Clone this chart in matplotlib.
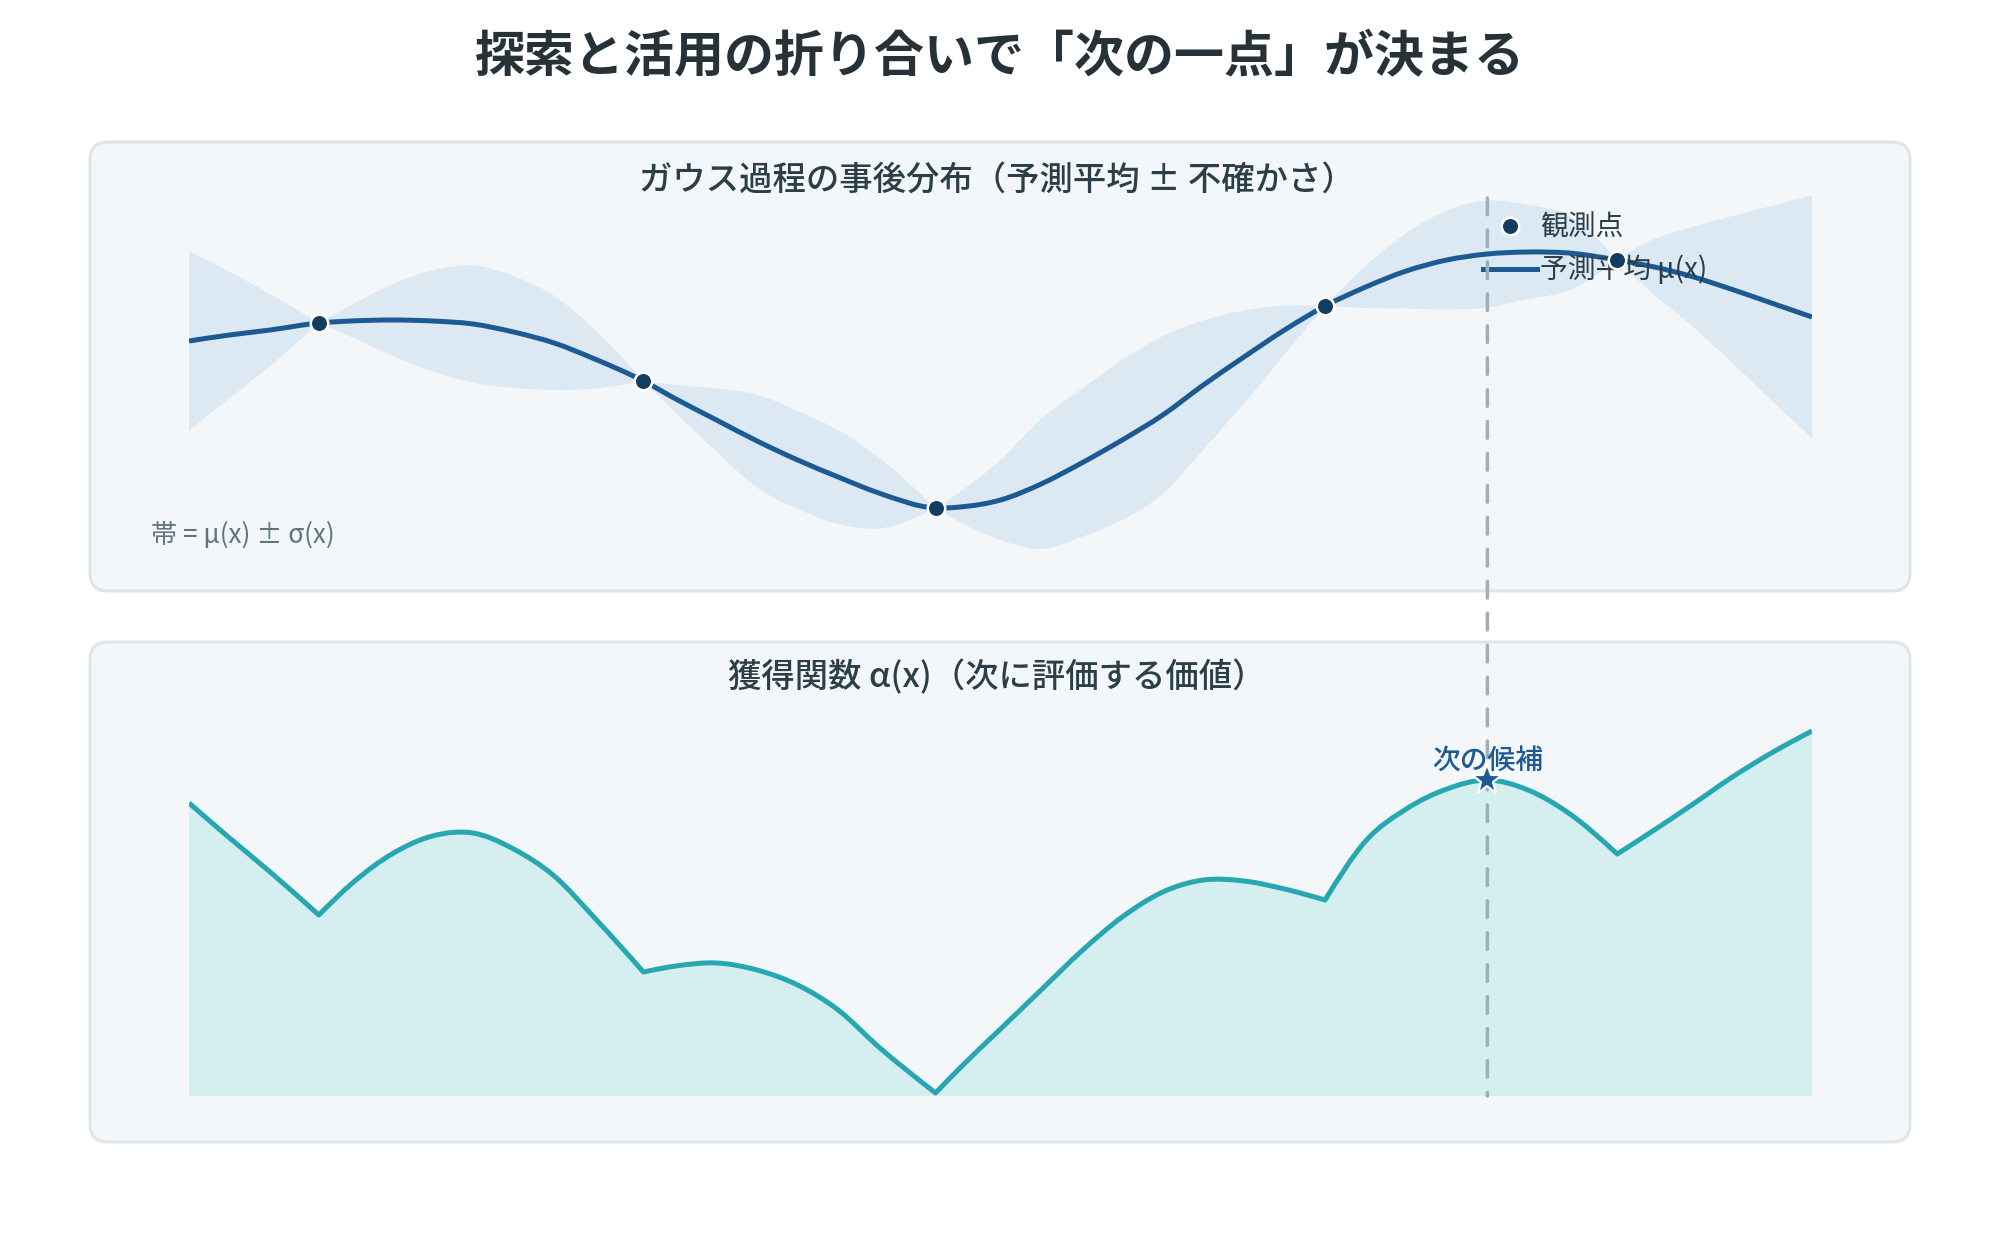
import numpy as np
import matplotlib
matplotlib.use("Agg")
import matplotlib.pyplot as plt
from matplotlib.patches import FancyBboxPatch, ConnectionPatch, PathPatch
from matplotlib.path import Path
from matplotlib.lines import Line2D

plt.rcParams['font.family'] = ['Noto Sans CJK JP', 'DejaVu Sans']

# ---------------- data ----------------
x_grid = [0.0, 0.025, 0.05, 0.08, 0.1, 0.125, 0.15, 0.175, 0.2, 0.225, 0.25, 0.28,
          0.3, 0.325, 0.35, 0.375, 0.4, 0.425, 0.46, 0.475, 0.5, 0.525, 0.55, 0.575,
          0.6, 0.625, 0.65, 0.675, 0.7, 0.725, 0.75, 0.775, 0.8, 0.825, 0.85, 0.88,
          0.9, 0.925, 0.95, 0.975, 1.0]

mu = [2.59, 2.65, 2.70, 2.77, 2.79, 2.80, 2.79, 2.76, 2.68, 2.57, 2.41, 2.19,
      2.01, 1.80, 1.59, 1.40, 1.23, 1.07, 0.92, 0.93, 1.00, 1.16, 1.37, 1.60,
      1.85, 2.15, 2.43, 2.70, 2.94, 3.13, 3.29, 3.40, 3.46, 3.48, 3.47, 3.40,
      3.34, 3.24, 3.11, 2.97, 2.83]

sigma = [0.895, 0.63, 0.36, 0.0, 0.16, 0.355, 0.505, 0.585, 0.56, 0.47, 0.295, 0.0,
         0.14, 0.315, 0.465, 0.49, 0.47, 0.355, 0.0, 0.15, 0.40, 0.65, 0.74, 0.80,
         0.79, 0.645, 0.465, 0.245, 0.0, 0.21, 0.375, 0.495, 0.535, 0.47, 0.375, 0.0,
         0.25, 0.485, 0.725, 0.97, 1.215]

obs_x = [0.08, 0.28, 0.46, 0.70, 0.88]
obs_y = [2.77, 2.19, 0.92, 2.94, 3.40]

acq = [2.93, 2.58, 2.24, 1.81, 2.12, 2.42, 2.60, 2.63, 2.47, 2.20, 1.78, 1.24,
       1.30, 1.33, 1.26, 1.11, 0.86, 0.49, 0.03, 0.28, 0.67, 1.06, 1.45, 1.79,
       2.04, 2.16, 2.15, 2.07, 1.96, 2.55, 2.87, 3.07, 3.16, 3.06, 2.83, 2.42,
       2.63, 2.90, 3.18, 3.43, 3.65]

next_x = 0.80
next_acq = 3.16

title = "探索と活用の折り合いで「次の一点」が決まる"
top_title = "ガウス過程の事後分布（予測平均 ± 不確かさ）"
bottom_title = "獲得関数 α(x)（次に評価する価値）"
band_note = "帯 = μ(x) ± σ(x)"
legend_labels = ["観測点", "予測平均 μ(x)"]
next_label = "次の候補"

# ---------------- style ----------------
C_TITLE = "#263238"
C_SUB = "#2c3e48"
C_PANEL = "#f3f7f9"
C_BORDER = "#dde5ea"
C_BAND = "#dce9f2"
C_MEAN = "#1b5a93"
C_OBS = "#123d60"
C_ACQ = "#26a7b1"
C_ACQFILL = "#d5eef0"
C_DASH = "#9dafba"
C_NEXT = "#1d5a94"
C_NOTE = "#607580"

W, H, DPI = 2000, 1252, 200
fig = plt.figure(figsize=(W / DPI, H / DPI), dpi=DPI)
fig.patch.set_facecolor("white")


def px_rect(x0, y0, x1, y1):
    return [x0 / W, 1 - y1 / H, (x1 - x0) / W, (y1 - y0) / H]


def panel(x0, y0, x1, y1):
    p = FancyBboxPatch((x0 / DPI, (H - y1) / DPI), (x1 - x0) / DPI, (y1 - y0) / DPI,
                       boxstyle="round,pad=0,rounding_size=0.09",
                       transform=fig.dpi_scale_trans, facecolor=C_PANEL,
                       edgecolor=C_BORDER, linewidth=1.1, zorder=-1)
    fig.add_artist(p)


def smooth_segments(x, y, cusps=()):
    """Catmull-Rom style cubic Bezier segments through the given points;
    points listed in `cusps` get one-sided tangents (sharp corner)."""
    x = np.asarray(x, float)
    y = np.asarray(y, float)
    n = len(x)
    h = np.diff(x)
    s = np.diff(y) / h
    t = np.zeros(n)
    for i in range(1, n - 1):
        t[i] = (s[i - 1] * h[i] + s[i] * h[i - 1]) / (h[i - 1] + h[i])
    t[0] = (3 * s[0] - t[1]) / 2
    t[-1] = (3 * s[-1] - t[-2]) / 2
    tl = t.copy()
    tr = t.copy()
    for i in cusps:
        if 0 < i < n - 1:
            tl[i] = (3 * s[i - 1] - t[i - 1]) / 2
            tr[i] = (3 * s[i] - t[i + 1]) / 2
    segs = []
    for i in range(n - 1):
        dx = h[i] / 3
        segs.append(((x[i], y[i]), (x[i] + dx, y[i] + dx * tr[i]),
                     (x[i + 1] - dx, y[i + 1] - dx * tl[i + 1]), (x[i + 1], y[i + 1])))
    return segs


def curve_path(x, y, cusps=()):
    segs = smooth_segments(x, y, cusps)
    verts = [segs[0][0]]
    codes = [Path.MOVETO]
    for sg in segs:
        verts += [sg[1], sg[2], sg[3]]
        codes += [Path.CURVE4] * 3
    return Path(verts, codes)


def band_path(x, lo, hi, cusps_lo=(), cusps_hi=()):
    up = smooth_segments(x, hi, cusps_hi)
    dn = smooth_segments(x, lo, cusps_lo)
    verts = [up[0][0]]
    codes = [Path.MOVETO]
    for sg in up:
        verts += [sg[1], sg[2], sg[3]]
        codes += [Path.CURVE4] * 3
    verts.append(dn[-1][3])
    codes.append(Path.LINETO)
    for sg in reversed(dn):
        verts += [sg[2], sg[1], sg[0]]
        codes += [Path.CURVE4] * 3
    verts.append(up[0][0])
    codes.append(Path.CLOSEPOLY)
    return Path(verts, codes)


obs_idx = [x_grid.index(v) for v in obs_x]

panel(90, 142, 1910, 591)
panel(90, 642, 1910, 1142)

# ---------------- top axes ----------------
ax1 = fig.add_axes(px_rect(189, 180, 1812, 580))
ax1.set_facecolor("none")
xg = np.array(x_grid)
m = np.array(mu)
s = np.array(sigma)
ax1.add_patch(PathPatch(band_path(xg, m - s, m + s, obs_idx, obs_idx),
                        facecolor=C_BAND, lw=0, zorder=1))
ax1.add_patch(PathPatch(curve_path(xg, m), facecolor="none", edgecolor=C_MEAN, lw=1.8,
                        capstyle="butt", zorder=3))
ax1.plot(obs_x, obs_y, ls="none", marker="o", ms=6.3, mfc=C_OBS, mec="white",
         mew=0.9, zorder=6)
ax1.set_xlim(0, 1)
ax1.set_ylim(0.2, 4.2)
ax1.axis("off")

handles = [Line2D([], [], ls="none", marker="o", ms=6.3, mfc=C_OBS, mec="white", mew=0.9),
           Line2D([], [], color=C_MEAN, lw=1.8)]
leg = ax1.legend(handles, legend_labels, loc="upper left",
                 bbox_to_anchor=(1483 / W, 1 - 213 / H), bbox_transform=fig.transFigure,
                 frameon=False, fontsize=10, handlelength=1.95, handletextpad=0.1,
                 labelspacing=0.45, borderpad=0, borderaxespad=0)
for t in leg.get_texts():
    t.set_color(C_SUB)
leg.set_zorder(5)

# ---------------- bottom axes ----------------
ax2 = fig.add_axes(px_rect(189, 700, 1812, 1096))
ax2.set_facecolor("none")
a = np.array(acq)
ax2.add_patch(PathPatch(band_path(xg, np.zeros_like(a), a, (), obs_idx),
                        facecolor=C_ACQFILL, lw=0, zorder=1))
ax2.add_patch(PathPatch(curve_path(xg, a, obs_idx), facecolor="none", edgecolor=C_ACQ,
                        lw=1.8, capstyle="butt", joinstyle="round", zorder=3))
ax2.set_xlim(0, 1)
ax2.set_ylim(0, 3.96)
ax2.axis("off")

con = ConnectionPatch(xyA=(next_x, 4.02), coordsA=ax1.transData,
                      xyB=(next_x, 0.0), coordsB=ax2.transData,
                      color=C_DASH, lw=1.25, linestyle=(0, (4.8, 4.4)), zorder=2)
con.set_clip_on(False)
ax2.add_artist(con)

ax2.plot([next_x], [next_acq], ls="none", marker="*", ms=11.5, mfc=C_NEXT, mec="white",
         mew=0.8, zorder=6)
ax2.annotate(next_label, (next_x, next_acq), xytext=(0, 7), textcoords="offset points",
             ha="center", va="center", fontsize=10, color=C_NEXT, fontweight="medium",
             zorder=7)

# ---------------- texts ----------------
fig.text(0.5, 1 - 58 / H, title, ha="center", va="center", fontsize=18,
         fontweight="bold", color=C_TITLE)
fig.text(0.4985, 1 - 180 / H, top_title, ha="center", va="center", fontsize=12,
         fontweight="medium", color=C_SUB)
fig.text(0.4985, 1 - 678 / H, bottom_title, ha="center", va="center", fontsize=12,
         fontweight="medium", color=C_SUB)
fig.text(151 / W, 1 - 535 / H, band_note, ha="left", va="center", fontsize=9.4,
         color=C_NOTE)

fig.savefig("out.png", dpi=DPI, facecolor="white")
